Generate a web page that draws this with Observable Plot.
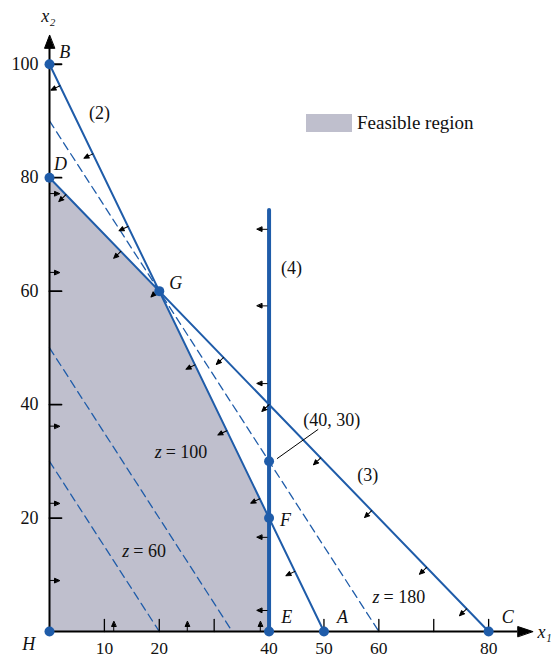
<!DOCTYPE html>
<html>
<head>
<meta charset="utf-8">
<script src="https://cdn.jsdelivr.net/npm/d3@7"></script>
<script src="https://cdn.jsdelivr.net/npm/@observablehq/plot@0.6"></script>
<style>
  body { margin: 0; background: #fff; }
  #wrap { position: relative; width: 554px; height: 658px; }
  #wrap svg { display: block; }
  #wrap svg text { font-family: "Liberation Serif", "DejaVu Serif", serif !important; }
  #legend { position: absolute; left: 306px; top: 112px; display: flex; align-items: center;
            font-family: "Liberation Serif", "DejaVu Serif", serif; font-size: 19px; color: #111; }
  #legend .sw { width: 46px; height: 18px; background: #bfbfcd; margin-right: 5px; }
</style>
</head>
<body>
<div id="wrap">
  <div id="legend"><div class="sw"></div><span>Feasible region</span></div>
</div>
<script>
// ---- data ----
const xTickMarks = [10, 20, 30, 50, 60, 70, 80];
const xTickLabels = [10, 20, 40, 50, 60, 80];
const yTicks = [20, 40, 60, 80, 100];

const feasible = [{x: 0, y: 80}, {x: 20, y: 60}, {x: 40, y: 20}];
const constraint2 = [{x: 0, y: 100}, {x: 50, y: 0}];
const constraint3 = [{x: 0, y: 80}, {x: 80, y: 0}];
const constraint4 = [{x: 40, y: 0}, {x: 40, y: 74.3}];
const iso60 = [{x: 0, y: 30}, {x: 20, y: 0}];
const iso100 = [{x: 0, y: 50}, {x: 33.3, y: 0}];
const iso180 = [{x: 0, y: 90}, {x: 60, y: 0}];

const vertices = [
  {name: "B", x: 0, y: 100}, {name: "D", x: 0, y: 80}, {name: "G", x: 20, y: 60},
  {name: "F", x: 40, y: 20}, {name: "E", x: 40, y: 0}, {name: "A", x: 50, y: 0},
  {name: "C", x: 80, y: 0}, {name: "H", x: 0, y: 0}, {name: "", x: 40, y: 30}
];
const vertexLabels = [
  {t: "B", x: 2.8, y: 102.2}, {t: "D", x: 2.0, y: 82.3}, {t: "G", x: 23, y: 61.4},
  {t: "F", x: 43, y: 19.7}, {t: "E", x: 43.2, y: 2.6}, {t: "A", x: 53.4, y: 2.6},
  {t: "C", x: 83.5, y: 2.6}, {t: "H", x: -3.8, y: -2.3}
];
const plainLabels = [
  {t: "(2)", x: 9.1, y: 91.3}, {t: "(4)", x: 44.1, y: 64.1},
  {t: "(3)", x: 58, y: 27.5}, {t: "(40, 30)", x: 51.4, y: 37.2}
];
const zLabels = [
  {v: "= 100", x: 20.8, y: 31.6}, {v: "= 60", x: 14.9, y: 14.1}, {v: "= 180", x: 60.5, y: 6.0}
];
const leader = [{x: 41.5, y: 30.5}, {x: 48.9, y: 35.6}];

// small direction arrows
const arrowsAxisY = [9, 22.6, 36.2, 63.3, 77.2];   // on x1 = 0, pointing right
const arrowsAxisX = [11.7, 25.1, 38.4];            // on x2 = 0, pointing up
const arrows4 = [70.9, 57.4, 43.7, 16.6, 3.7];     // on x1 = 40, pointing left
const arrows2X = [1.9, 7.9, 14.3, 26.5, 32.3, 38.3, 44.7]; // on 2x1 + x2 = 100
const arrows3X = [3.0, 13.0, 19.8, 31.7, 40, 49.4, 58.7, 68.7, 76.0]; // on x1 + x2 = 80

const xAxisEnd = 85.3, yAxisEnd = 102.8;

// ---- styles ----
const BLUE = "#1f5ca9";
const FILL = "#bfbfcd";
const FONT = "'Liberation Serif', 'DejaVu Serif', serif";

const arrowShape = {draw(ctx, l) {
  ctx.moveTo(0, 0); ctx.lineTo(0, -l + 3);
  ctx.moveTo(0, -l); ctx.lineTo(-2.2, -l + 5); ctx.lineTo(2.2, -l + 5); ctx.closePath();
}};
const tickShape = {draw(ctx, l) { ctx.moveTo(0, 0); ctx.lineTo(0, -l); }};
const headShape = {draw(ctx, l) { ctx.moveTo(0, -l); ctx.lineTo(-5, 0); ctx.lineTo(5, 0); ctx.closePath(); }};

const arrowOpts = {length: 10, anchor: "start", shape: arrowShape, stroke: "black", fill: "black", strokeWidth: 1};
const T = {fill: "#111", fontSize: 18, fontFamily: FONT};

const chart = Plot.plot({
  width: 554, height: 658,
  marginLeft: 49, marginRight: 0, marginTop: 7, marginBottom: 27,
  x: {domain: [0, 92], axis: null},
  y: {domain: [0, 110], axis: null},
  style: {fontFamily: FONT, fontSize: "18px", background: "white", overflow: "visible"},
  marks: [
    Plot.areaY(feasible, {x: "x", y: "y", fill: FILL}),
    Plot.line(iso60, {x: "x", y: "y", stroke: BLUE, strokeWidth: 1.3, strokeDasharray: "8,5"}),
    Plot.line(iso100, {x: "x", y: "y", stroke: BLUE, strokeWidth: 1.3, strokeDasharray: "8,5"}),
    Plot.line(iso180, {x: "x", y: "y", stroke: BLUE, strokeWidth: 1.3, strokeDasharray: "8,5"}),
    Plot.line(constraint2, {x: "x", y: "y", stroke: BLUE, strokeWidth: 2}),
    Plot.line(constraint3, {x: "x", y: "y", stroke: BLUE, strokeWidth: 2}),
    Plot.line(constraint4, {x: "x", y: "y", stroke: BLUE, strokeWidth: 4}),
    // axes
    Plot.ruleY([0], {x1: 0, x2: xAxisEnd, stroke: "black", strokeWidth: 2}),
    Plot.ruleX([0], {y1: 0, y2: yAxisEnd, stroke: "black", strokeWidth: 2}),
    Plot.vector([xAxisEnd], {x: d => d, y: 0, rotate: 90, length: 15, anchor: "start", shape: headShape, fill: "black", stroke: "black", strokeWidth: 1}),
    Plot.vector([yAxisEnd], {x: 0, y: d => d, rotate: 0, length: 13, anchor: "start", shape: headShape, fill: "black", stroke: "black", strokeWidth: 1}),
    Plot.vector(xTickMarks, {x: d => d, y: 0, rotate: 0, length: 12, anchor: "start", shape: tickShape, stroke: "black", strokeWidth: 1.3}),
    Plot.vector(yTicks, {x: 0, y: d => d, rotate: 90, length: 12, anchor: "start", shape: tickShape, stroke: "black", strokeWidth: 1.8}),
    Plot.text(xTickLabels, {x: d => d, y: 0, dy: 17, text: d => String(d), ...T, fontSize: 17.5}),
    Plot.text(yTicks, {x: 0, y: d => d, dx: -11, textAnchor: "end", text: d => String(d), ...T}),
    // direction arrows
    Plot.vector(arrowsAxisY, {x: 0, y: d => d, rotate: 90, ...arrowOpts}),
    Plot.vector(arrowsAxisX, {x: d => d, y: 0, rotate: 0, ...arrowOpts}),
    Plot.vector(arrows4, {x: 40, y: d => d, dx: -2, rotate: 270, ...arrowOpts}),
    Plot.vector(arrows2X, {x: d => d, y: d => 100 - 2 * d, rotate: 244, ...arrowOpts}),
    Plot.vector(arrows3X, {x: d => d, y: d => 80 - d, rotate: 226, ...arrowOpts}),
    // leader
    Plot.line(leader, {x: "x", y: "y", stroke: "black", strokeWidth: 1}),
    // points
    Plot.dot(vertices, {x: "x", y: "y", r: 5, fill: BLUE, stroke: null}),
    // labels
    Plot.text(vertexLabels, {x: "x", y: "y", text: "t", fontStyle: "italic", ...T}),
    Plot.text(plainLabels, {x: "x", y: "y", text: "t", ...T}),
    Plot.text(zLabels, {x: "x", y: "y", text: () => "z", dx: -2, textAnchor: "end", fontStyle: "italic", ...T}),
    Plot.text(zLabels, {x: "x", y: "y", text: "v", dx: 2, textAnchor: "start", ...T}),
    Plot.text(["x₂"], {x: -0.2, y: 108.4, text: d => d, fontStyle: "italic", ...T}),
    Plot.text(["x₁"], {x: 88.9, y: -0.2, text: d => d, textAnchor: "start", fontStyle: "italic", ...T})
  ]
});
document.getElementById("wrap").prepend(chart);
</script>
</body>
</html>
